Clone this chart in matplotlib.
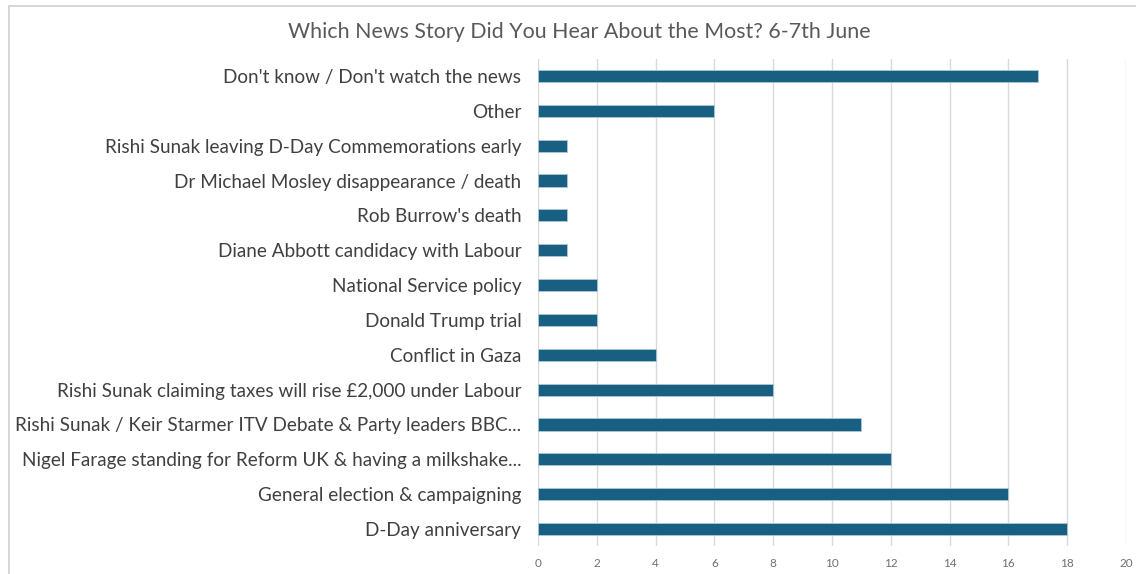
import matplotlib.pyplot as plt
from matplotlib.patches import Rectangle

# categories bottom to top
stories = [
    "D-Day anniversary",
    "General election & campaigning",
    "Nigel Farage standing for Reform UK & having a milkshake...",
    "Rishi Sunak / Keir Starmer ITV Debate & Party leaders BBC...",
    "Rishi Sunak claiming taxes will rise £2,000 under Labour",
    "Conflict in Gaza",
    "Donald Trump trial",
    "National Service policy",
    "Diane Abbott candidacy with Labour",
    "Rob Burrow's death",
    "Dr Michael Mosley disappearance / death",
    "Rishi Sunak leaving D-Day Commemorations early",
    "Other",
    "Don't know / Don't watch the news",
]
counts = [18, 16, 12, 11, 8, 4, 2, 2, 1, 1, 1, 1, 6, 17]
xticks = list(range(0, 21, 2))

plt.rcParams['font.family'] = ['Lato', 'DejaVu Sans']

fig = plt.figure(figsize=(11.36, 5.74), dpi=100)
ax = fig.add_axes([0.4736, 0.048, 0.5175, 0.85])

ypos = list(range(len(stories)))
ax.barh(ypos, counts, height=0.35, color='#195f82', edgecolor='#a9c8d8', linewidth=0.6, zorder=3)

ax.set_xlim(0, 20)
ax.set_ylim(-0.5, len(stories) - 0.5)
ax.set_xticks(xticks)
ax.set_yticks(ypos)
ax.set_yticklabels(stories, fontsize=13.6, color='#404040')
ax.tick_params(axis='x', labelsize=8.5, colors='#707070', length=0, pad=8)
ax.tick_params(axis='y', length=0, pad=12)
ax.grid(axis='x', color='#d9d9d9', linewidth=1, zorder=0)
for s in ax.spines.values():
    s.set_visible(False)

fig.text(0.51, 0.945, "Which News Story Did You Hear About the Most? 6-7th June",
         ha='center', va='center', fontsize=15.4, color='#595959')

# light frame around the chart area
fig.patches.append(Rectangle((0.008, -0.01), 1.1, 1.0, transform=fig.transFigure,
                             fill=False, edgecolor='#d0d0d0', linewidth=1.2))

fig.savefig('out.png', dpi=100)
